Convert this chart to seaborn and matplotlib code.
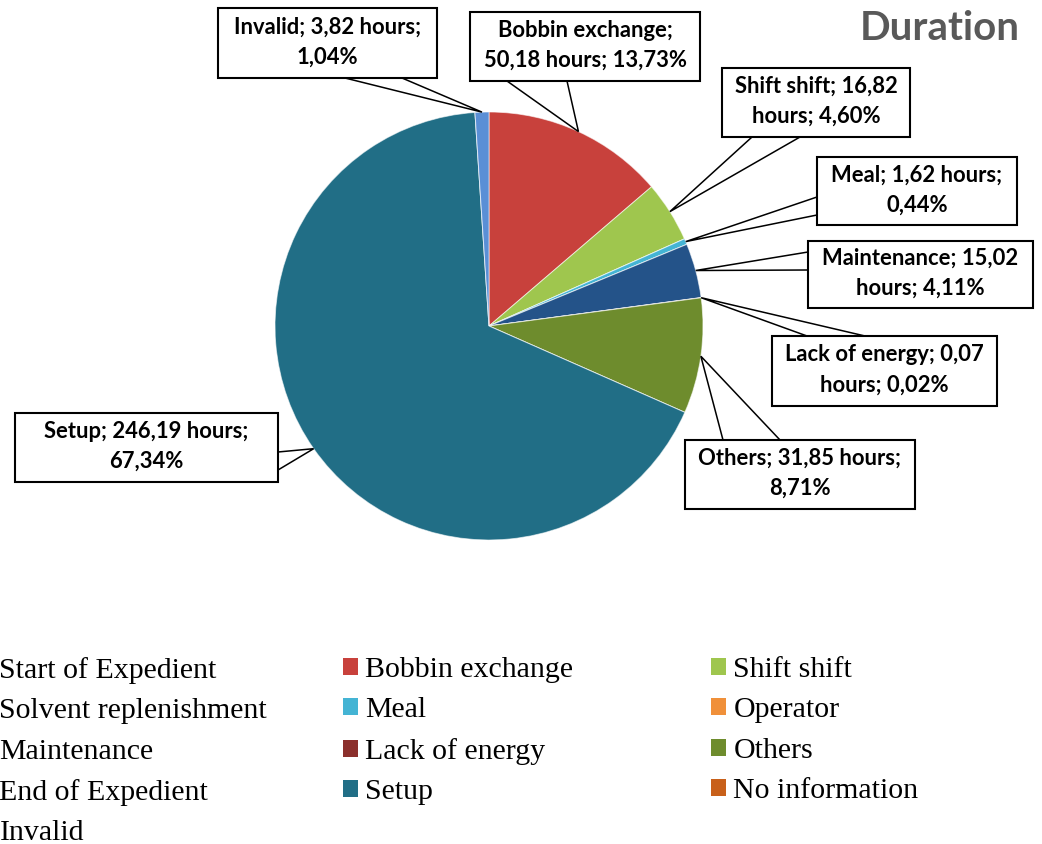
import numpy as np
import matplotlib
matplotlib.use('Agg')
import matplotlib.pyplot as plt
import seaborn as sns
from matplotlib.patches import Rectangle, Polygon


W, H = 1042, 844

categories = [
    'Start of Expedient', 'Bobbin exchange', 'Shift shift',
    'Solvent replenishment', 'Meal', 'Operator',
    'Maintenance', 'Lack of energy', 'Others',
    'End of Expedient', 'Setup', 'No information',
    'Invalid',
]
hours = [0, 50.18, 16.82, 0, 1.62, 0, 15.02, 0.07, 31.85, 0, 246.19, 0, 3.82]
colors = [
    '#4F81BD', '#C8413C', '#9FC64E',
    '#8064A2', '#44B4D4', '#F0903A',
    '#245389', '#8B2F2C', '#6E8C2D',
    '#4D3B62', '#216E86', '#C8601A',
    '#5A8FD6',
]

# callout layout in pixels (top-down): box x0, y0, x1, y1 and the two base points of the pointer
callouts = {
    'Invalid': ((218, 8, 437, 78), ((345, 78), (402, 78)), 3),
    'Bobbin exchange': ((470, 12, 700, 81), ((507, 81), (567, 81)), 2),
    'Shift shift': ((722, 68, 910, 137), ((752, 137), (800, 137)), 3),
    'Meal': ((817, 157, 1017, 225), ((817, 197), (817, 215)), 3),
    'Maintenance': ((808, 241, 1033, 308), ((808, 252), (808, 270)), 2),
    'Lack of energy': ((772, 336, 997, 406), ((807, 336), (865, 336)), 4),
    'Others': ((685, 440, 915, 509), ((723, 440), (780, 440)), 3),
    'Setup': ((15, 413, 278, 482), ((278, 452), (278, 470)), 3),
}

PIE_CENTER = (489, H - 326)
PIE_RADIUS = 214


def label_text(name, value, share, wrap_after):
    words = f'{name}; {value:.2f} hours; {share:.2f}%'.replace('.', ',').split(' ')
    return ' '.join(words[:wrap_after]) + '\n' + ' '.join(words[wrap_after:])


sns.set_theme(style='white')
plt.rcParams['font.family'] = ['Lato', 'DejaVu Sans']

fig = plt.figure(figsize=(W / 100, H / 100), dpi=100)
ax = fig.add_axes([0, 0, 1, 1])

wedges, _ = ax.pie(
    hours,
    colors=colors,
    startangle=90,
    counterclock=False,
    center=PIE_CENTER,
    radius=PIE_RADIUS,
    wedgeprops=dict(linewidth=0.7, edgecolor=(1, 1, 1, 0.6)),
)
ax.set_xlim(0, W)
ax.set_ylim(0, H)
ax.set_aspect('equal')
ax.axis('off')

total = sum(hours)
for name, value, wedge in zip(categories, hours, wedges):
    if name not in callouts:
        continue
    (x0, y0, x1, y1), bases, wrap_after = callouts[name]
    mid = np.deg2rad((wedge.theta1 + wedge.theta2) / 2)
    apex = (PIE_CENTER[0] + PIE_RADIUS * np.cos(mid), PIE_CENTER[1] + PIE_RADIUS * np.sin(mid))
    pts = [(bases[0][0], H - bases[0][1]), apex, (bases[1][0], H - bases[1][1])]
    ax.add_patch(Polygon(pts, closed=True, facecolor='white', edgecolor='black', linewidth=1.1, zorder=3))
    ax.add_patch(Rectangle((x0, H - y1), x1 - x0, y1 - y0, facecolor='white',
                           edgecolor='black', linewidth=1.5, zorder=4))
    ax.text((x0 + x1) / 2, H - (y0 + y1) / 2 + 1,
            label_text(name, value, value / total * 100, wrap_after),
            ha='center', va='center', fontsize=15.8, fontweight='bold',
            color='black', linespacing=1.55, zorder=5)

ax.text(1020, H - 29, 'Duration', ha='right', va='center', fontsize=29,
        fontweight='bold', color='#595959')

# legend, three columns filled row by row like the original
legend_cols = [[0, 3, 6, 9, 12], [1, 4, 7, 10], [2, 5, 8, 11]]
legend_x = [-23, 343, 711]
for i, (col, lx) in enumerate(zip(legend_cols, legend_x)):
    leg = ax.legend(
        [wedges[j] for j in col], [categories[j] for j in col],
        loc='upper left', bbox_to_anchor=(lx / W, 1 - 657 / H),
        bbox_transform=fig.transFigure,
        frameon=False, borderpad=0, borderaxespad=0,
        handlelength=0.5, handleheight=0.5, handletextpad=0.25,
        labelspacing=0.48,
        labelcolor='black',
        prop=dict(family='Liberation Serif', size=21.5),
    )
    for h in leg.legend_handles:
        h.set_edgecolor('none')
    if i < len(legend_cols) - 1:
        ax.add_artist(leg)

fig.savefig('out.png', dpi=100)
